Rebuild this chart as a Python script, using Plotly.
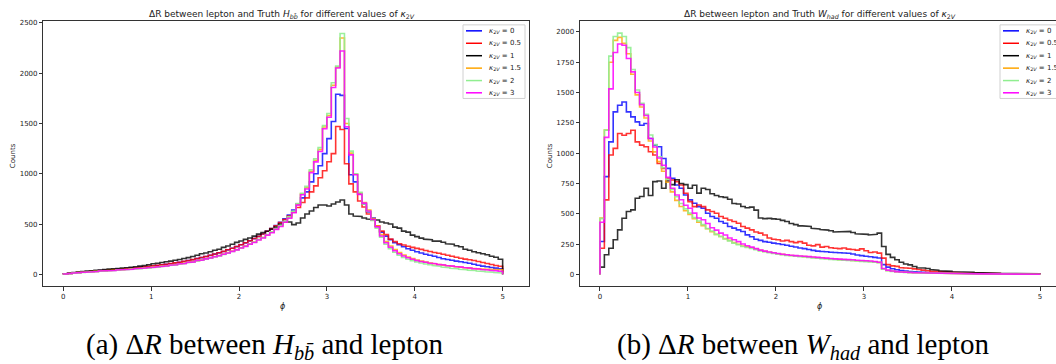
import plotly.graph_objects as go

W, H = 1056, 364

# ---------------- data ----------------
N_BINS = 100
BIN_LO, BIN_HI = 0.0, 5.0

kappa_labels = ["0", "0.5", "1", "1.5", "2", "3"]
colors = ["rgba(0,0,255,0.8)", "rgba(255,0,0,0.8)", "rgba(0,0,0,0.8)",
          "rgba(255,165,0,0.8)", "rgba(144,238,144,0.9)", "rgba(255,0,255,0.85)"]
legend_colors = ["#0000ff", "#ff0000", "#000000", "#ffa500", "#90ee90", "#ff00ff"]

# Panel (a): dR(lepton, H_bb)
hbb_k0 = [4, 10, 15, 19, 23, 26, 30, 33, 37, 39,
          43, 46, 50, 53, 57, 61, 65, 69, 74, 78,
          83, 88, 94, 100, 106, 113, 120, 128, 137, 146,
          156, 166, 177, 189, 201, 214, 228, 243, 259, 276,
          294, 313, 333, 355, 378, 402, 428, 456, 486, 518,
          552, 590, 640, 700, 760, 820, 920, 1000, 1080, 1200,
          1350, 1520, 1790, 1780, 1450, 990, 920, 800, 700, 620,
          560, 480, 420, 380, 345, 315, 295, 275, 255, 240,
          225, 212, 200, 190, 180, 168, 155, 148, 140, 132,
          125, 118, 110, 100, 90, 82, 75, 68, 62, 56]
hbb_k05 = [4, 10, 15, 19, 23, 26, 30, 33, 37, 40,
           43, 47, 50, 54, 58, 62, 66, 70, 75, 79,
           84, 89, 95, 101, 107, 114, 121, 129, 138, 147,
           157, 167, 178, 190, 202, 215, 229, 244, 260, 277,
           295, 314, 334, 356, 378, 402, 428, 455, 484, 514,
           545, 580, 620, 665, 715, 760, 820, 880, 960, 1030,
           1120, 1200, 1470, 1440, 1100, 900, 820, 730, 670, 600,
           540, 480, 430, 395, 350, 325, 305, 292, 280, 268,
           258, 248, 238, 228, 218, 210, 200, 190, 180, 170,
           160, 152, 145, 138, 128, 118, 108, 98, 88, 80]
hbb_k1 = [5, 12, 18, 23, 28, 32, 36, 40, 44, 48,
          52, 55, 58, 62, 66, 71, 76, 82, 88, 96,
          105, 111, 118, 125, 132, 140, 148, 157, 166, 178,
          190, 205, 212, 225, 240, 250, 268, 282, 300, 318,
          332, 348, 362, 380, 400, 415, 428, 450, 470, 500,
          525, 520, 495, 510, 560, 600, 630, 665, 690, 690,
          680, 700, 720, 740, 690, 600, 580, 575, 560, 550,
          545, 540, 520, 510, 500, 470, 460, 430, 420, 390,
          375, 360, 350, 345, 330, 330, 320, 305, 300, 285,
          275, 250, 240, 225, 215, 205, 195, 180, 170, 150]
hbb_k15 = [4, 9, 14, 17, 21, 23, 27, 30, 33, 35,
           39, 41, 45, 47, 51, 54, 58, 61, 65, 68,
           72, 76, 82, 86, 93, 98, 105, 111, 120, 127,
           137, 145, 156, 165, 177, 188, 202, 216, 232, 247,
           265, 283, 304, 322, 346, 366, 394, 420, 452, 484,
           522, 566, 620, 698, 800, 862, 1025, 1135, 1240, 1465,
           1580, 1880, 2060, 2350, 1500, 1205, 995, 805, 715, 640,
           555, 482, 395, 325, 282, 246, 216, 192, 172, 156,
           143, 132, 122, 113, 105, 98, 92, 86, 80, 75,
           70, 66, 62, 58, 55, 52, 50, 48, 47, 46]
hbb_k2 = [3, 7, 12, 15, 19, 21, 25, 27, 31, 32,
          36, 38, 42, 44, 48, 50, 55, 57, 61, 64,
          69, 72, 78, 82, 89, 94, 101, 107, 116, 123,
          133, 141, 152, 161, 173, 184, 198, 211, 227, 243,
          262, 280, 302, 320, 346, 366, 396, 422, 455, 486,
          528, 572, 628, 705, 805, 875, 1040, 1150, 1260, 1480,
          1600, 1905, 2070, 2394, 1550, 1225, 1000, 815, 700, 625,
          535, 460, 370, 300, 255, 220, 190, 168, 150, 136,
          124, 113, 103, 95, 87, 80, 73, 67, 61, 56,
          51, 46, 42, 38, 34, 30, 26, 22, 18, 14]
hbb_k3 = [3, 8, 14, 16, 21, 22, 27, 28, 33, 33,
          38, 39, 44, 45, 50, 51, 56, 58, 63, 65,
          71, 73, 80, 83, 91, 95, 103, 108, 118, 124,
          135, 142, 154, 162, 175, 185, 200, 212, 229, 243,
          262, 278, 300, 317, 342, 361, 390, 414, 447, 476,
          518, 558, 612, 688, 792, 848, 1012, 1118, 1222, 1448,
          1562, 1858, 2052, 2220, 1468, 1188, 990, 795, 708, 630,
          545, 472, 382, 315, 270, 235, 205, 182, 165, 150,
          138, 128, 120, 112, 105, 99, 93, 88, 82, 77,
          72, 67, 62, 57, 53, 48, 44, 40, 35, 31]

# Panel (b): dR(lepton, W_had)
whad_k0 = [271, 806, 1093, 1340, 1395, 1422, 1340, 1299, 1258, 1230,
           1244, 1121, 1066, 1052, 956, 874, 792, 737, 710, 655,
           614, 587, 559, 545, 504, 477, 463, 436, 422, 395,
           381, 367, 354, 326, 310, 290, 280, 270, 265, 258,
           252, 246, 240, 232, 226, 218, 212, 205, 198, 192,
           188, 186, 183, 180, 178, 176, 174, 168, 160, 155,
           150, 145, 140, 135, 80, 60, 46, 38, 32, 28,
           24, 21, 19, 17, 15, 13, 12, 11, 10, 9,
           8, 7, 7, 6, 6, 5, 5, 4, 4, 4,
           3, 3, 3, 3, 2, 2, 2, 2, 2, 1]
whad_k05 = [216, 614, 984, 1039, 1162, 1148, 1162, 1189, 1093, 1066,
            1052, 1011, 984, 915, 874, 792, 778, 765, 737, 669,
            600, 559, 572, 559, 532, 518, 504, 477, 463, 449,
            436, 422, 395, 381, 367, 350, 340, 325, 300, 290,
            285, 275, 280, 270, 262, 270, 258, 240, 235, 245,
            225, 230, 220, 215, 212, 218, 208, 205, 200, 210,
            195, 180, 185, 175, 134, 80, 70, 66, 55, 52,
            50, 45, 40, 35, 30, 25, 24, 22, 20, 18,
            16, 14, 12, 12, 10, 9, 8, 8, 7, 6,
            6, 5, 5, 4, 4, 4, 3, 3, 3, 2]
whad_k1 = [60, 162, 216, 285, 367, 463, 518, 532, 628, 642,
           710, 650, 765, 770, 710, 770, 740, 780, 750, 740,
           710, 735, 670, 710, 700, 665, 650, 640, 635, 620,
           585, 580, 560, 550, 555, 530, 465, 460, 462, 458,
           455, 445, 436, 420, 410, 400, 400, 395, 380, 375,
           370, 365, 360, 350, 352, 350, 355, 345, 335, 330,
           330, 325, 330, 340, 230, 165, 140, 120, 100, 85,
           78, 65, 55, 52, 48, 40, 35, 30, 28, 25,
           22, 20, 20, 18, 17, 15, 12, 12, 10, 10,
           9, 8, 8, 10, 7, 6, 8, 5, 5, 4]
whad_k15 = [465, 1190, 1750, 1930, 1955, 1905, 1820, 1650, 1480, 1380,
            1290, 1100, 1010, 930, 850, 760, 680, 610, 560, 525,
            495, 460, 430, 402, 376, 352, 330, 312, 295, 280,
            262, 248, 234, 228, 220, 208, 198, 190, 182, 176,
            170, 165, 160, 156, 152, 149, 146, 143, 140, 137,
            134, 131, 128, 125, 122, 120, 118, 115, 112, 110,
            108, 106, 103, 99, 44, 32, 26, 22, 19, 17,
            15, 13, 12, 11, 10, 9, 8, 8, 7, 7,
            6, 6, 5, 5, 4, 4, 4, 3, 3, 3,
            3, 3, 2, 2, 2, 2, 2, 1, 1, 1]
whad_k2 = [460, 1190, 1800, 1962, 1990, 1962, 1870, 1690, 1520, 1410,
           1320, 1150, 1070, 970, 880, 785, 700, 640, 585, 540,
           505, 468, 440, 410, 378, 358, 330, 312, 292, 276,
           258, 244, 230, 222, 214, 204, 194, 186, 179, 173,
           167, 162, 157, 153, 149, 146, 143, 139, 136, 133,
           130, 127, 124, 121, 119, 117, 114, 112, 110, 107,
           105, 103, 100, 97, 42, 30, 25, 21, 18, 16,
           14, 13, 12, 10, 10, 9, 8, 7, 7, 6,
           6, 5, 5, 5, 4, 4, 4, 3, 3, 3,
           3, 2, 2, 2, 2, 2, 2, 1, 1, 1]
whad_k3 = [430, 1130, 1530, 1830, 1900, 1890, 1780, 1670, 1500, 1400,
           1310, 1120, 1050, 960, 900, 800, 710, 655, 615, 570,
           545, 505, 465, 450, 420, 385, 365, 340, 325, 300,
           285, 270, 250, 236, 225, 212, 200, 192, 185, 178,
           172, 166, 162, 158, 155, 152, 149, 146, 143, 140,
           137, 134, 131, 128, 126, 124, 122, 120, 117, 114,
           112, 110, 106, 100, 48, 35, 28, 23, 20, 17,
           15, 13, 12, 11, 10, 9, 8, 8, 7, 7,
           6, 6, 5, 5, 5, 4, 4, 4, 3, 3,
           3, 3, 2, 2, 2, 2, 2, 2, 1, 1]

hbb_series = [hbb_k0, hbb_k05, hbb_k1, hbb_k15, hbb_k2, hbb_k3]
whad_series = [whad_k0, whad_k05, whad_k1, whad_k15, whad_k2, whad_k3]

x_ticks = [0, 1, 2, 3, 4, 5]
y_ticks_a = [0, 500, 1000, 1500, 2000, 2500]
y_ticks_b = [0, 250, 500, 750, 1000, 1250, 1500, 1750, 2000]

# ---------------- helpers ----------------
width_bin = (BIN_HI - BIN_LO) / N_BINS
edges = [BIN_LO + i * width_bin for i in range(N_BINS + 1)]


def step_path(vals):
    xs, ys = [edges[0]], [0]
    for i, v in enumerate(vals):
        xs += [edges[i], edges[i + 1]]
        ys += [v, v]
    xs.append(edges[-1])
    ys.append(0)
    return xs, ys


def px(x):
    return x / W


def py(y):
    return 1 - y / H


fig = go.Figure()
for vals, c, lab in zip(hbb_series, colors, kappa_labels):
    xs, ys = step_path(vals)
    fig.add_trace(go.Scatter(x=xs, y=ys, mode="lines", line=dict(color=c, width=1.6),
                             name="κ2V = " + lab, showlegend=False, xaxis="x", yaxis="y"))
for vals, c, lab in zip(whad_series, colors, kappa_labels):
    xs, ys = step_path(vals)
    fig.add_trace(go.Scatter(x=xs, y=ys, mode="lines", line=dict(color=c, width=1.6),
                             name="κ2V = " + lab, showlegend=False, xaxis="x2", yaxis="y2"))

TICKFONT = dict(family="DejaVu Sans", size=7, color="#222")
axis_common = dict(showgrid=False, zeroline=False, showline=True, linecolor="#333",
                   linewidth=0.8, ticks="outside", ticklen=3.5, tickwidth=0.8,
                   tickcolor="#333", tickfont=TICKFONT)

Y0, Y1 = 19, 286
fig.update_layout(
    width=W, height=H, margin=dict(l=0, r=0, t=0, b=0),
    paper_bgcolor="white", plot_bgcolor="white",
    xaxis=dict(domain=[px(43.3), px(529)], range=[-0.227, 5.30], tickvals=x_ticks,
               mirror=True, anchor="y", **axis_common),
    yaxis=dict(domain=[py(Y1), py(Y0)], range=[-120, 2520], tickvals=y_ticks_a,
               mirror=True, anchor="x", **axis_common),
    xaxis2=dict(domain=[px(580), 1.0], range=[-0.227, (W - 600) / 88.0], tickvals=x_ticks,
                mirror=True, anchor="y2", **axis_common),
    yaxis2=dict(domain=[py(Y1), py(Y0)], range=[-99.5, 2090.5], tickvals=y_ticks_b,
                mirror=False, anchor="x2", **axis_common),
)

ann = []
TXT = dict(family="DejaVu Sans", color="#222")
# titles
ann.append(dict(x=px(282), y=py(13), text="ΔR between lepton and Truth <i>H</i><sub><i>bb̄</i></sub> for different values of <i>κ</i><sub>2<i>V</i></sub>",
                font=dict(size=9, **TXT)))
ann.append(dict(x=px(820), y=py(13), text="ΔR between lepton and Truth <i>W</i><sub><i>had</i></sub> for different values of <i>κ</i><sub>2<i>V</i></sub>",
                font=dict(size=9, **TXT)))
# axis titles
ann.append(dict(x=px(13), y=py(155), text="Counts", textangle=-90, font=dict(size=7, **TXT)))
ann.append(dict(x=px(550), y=py(155), text="Counts", textangle=-90, font=dict(size=7, **TXT)))
ann.append(dict(x=px(283), y=py(306), text="<i>ϕ</i>", font=dict(size=8, **TXT)))
ann.append(dict(x=px(820), y=py(306), text="<i>ϕ</i>", font=dict(size=8, **TXT)))
# captions
CAP = dict(family="Liberation Serif", size=29, color="#000")
ann.append(dict(x=px(265), y=py(346), text="(a) Δ<i>R</i> between <i>H</i><sub><i>bb̄</i></sub> and lepton", font=CAP))
ann.append(dict(x=px(803), y=py(346), text="(b) Δ<i>R</i> between <i>W</i><sub><i>had</i></sub> and lepton", font=CAP))

shapes = []
# manual legends
rows = [29, 41.5, 54, 66.5, 79, 91.3]
for (bx0, bx1, lx0, lx1, tx) in [(463, 525, 466, 482, 487), (1000, 1070, 1003, 1019, 1024)]:
    shapes.append(dict(type="rect", xref="paper", yref="paper", x0=px(bx0), x1=px(bx1),
                       y0=py(97), y1=py(23), line=dict(color="#d0d0d0", width=1),
                       fillcolor="rgba(255,255,255,0.85)", layer="above"))
    for yy, c, lab in zip(rows, legend_colors, kappa_labels):
        shapes.append(dict(type="line", xref="paper", yref="paper", x0=px(lx0), x1=px(lx1),
                           y0=py(yy), y1=py(yy), line=dict(color=c, width=1.5), layer="above"))
        ann.append(dict(x=px(tx), y=py(yy), xanchor="left", yanchor="middle",
                        text="<i>κ</i><sub>2<i>V</i></sub> = " + lab, font=dict(size=7, **TXT)))

for a in ann:
    a.setdefault("xref", "paper")
    a.setdefault("yref", "paper")
    a.setdefault("showarrow", False)
    a.setdefault("xanchor", "center")
    a.setdefault("yanchor", "middle")

fig.update_layout(annotations=ann, shapes=shapes)
fig.write_html("out.html")
